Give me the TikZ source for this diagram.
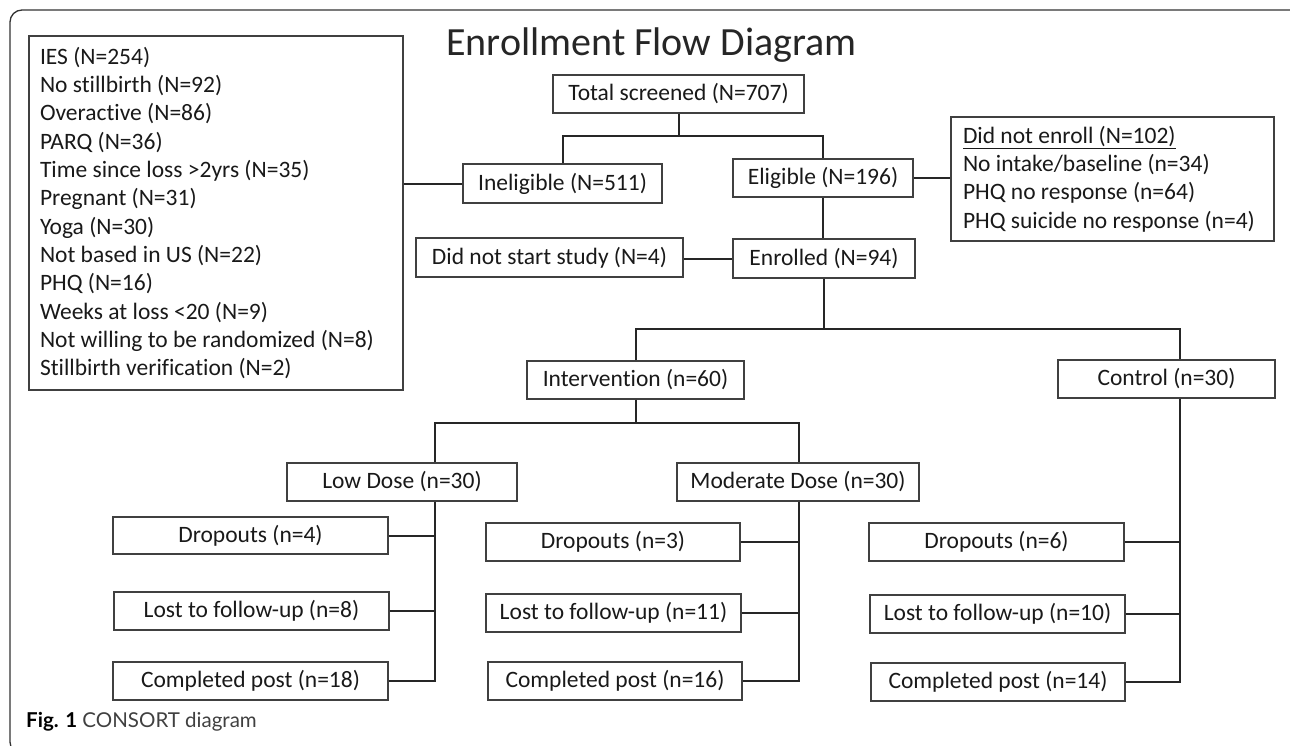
\documentclass[tikz,border=0pt]{standalone}
\usepackage{fontspec}
\setmainfont{Carlito}[Ligatures=NoCommon]
\newfontfamily\capfont{Lato}
\begin{document}
\begin{tikzpicture}[x=1pt,y=-1pt,
  box/.style={draw=black!75,line width=1.3pt,inner sep=0pt,
    font=\fontsize{23.5}{28.3}\selectfont,text=black!90},
  listbox/.style={box,align=left,
    execute at begin node={\spaceskip=0pt\xspaceskip=0pt\relax}},
  conn/.style={draw=black!85,line width=2pt},
  sbox/.style={box,minimum height=38pt}]
\clip (0,0) rectangle (1290,745);
\draw[black!80,line width=1.3pt,rounded corners=12pt] (10,10) rectangle (1302,754);

% title
\node[anchor=base,inner sep=0pt,font=\fontsize{40}{44}\selectfont,text=black!85] (title) at (651.5,55) {Enrollment Flow Diagram};

% boxes
\node[listbox,text width=352pt,inner xsep=11pt,minimum height=354pt] (reasons) at (216,213)
 {IES (N=254)\\No stillbirth (N=92)\\Overactive (N=86)\\PARQ (N=36)\\Time since loss >2yrs (N=35)\\Pregnant (N=31)\\Yoga (N=30)\\Not based in US (N=22)\\PHQ (N=16)\\Weeks at loss <20 (N=9)\\Not willing to be randomized (N=8)\\Stillbirth verification (N=2)};
\node[sbox,minimum width=251pt] (total) at (678.5,94) {Total screened (N=707)};
\node[sbox,minimum width=199pt,minimum height=39pt] (inel) at (562.5,183.5) {Ineligible (N=511)};
\node[sbox,minimum width=180pt] (elig) at (823,178) {Eligible (N=196)};
\node[listbox,text width=299pt,inner xsep=12pt,minimum height=124pt] (dne) at (1112.5,179)
 {\underline{Did not enroll (N=102)}\\No intake/baseline (n=34)\\PHQ no response (n=64)\\PHQ suicide no response (n=4)};
\node[sbox,minimum width=267pt,minimum height=39pt] (dns) at (549.5,257.5) {Did not start study (N=4)};
\node[sbox,minimum width=182pt,minimum height=39pt] (enr) at (824,258.5) {Enrolled (N=94)};
\node[sbox,minimum width=217pt] (interv) at (635.5,380) {Intervention (n=60)};
\node[sbox,minimum width=217pt] (ctrl) at (1166.5,379) {Control (n=30)};
\node[sbox,minimum width=230pt] (low) at (402,482) {Low Dose (n=30)};
\node[sbox,minimum width=242pt] (mod) at (798,482) {Moderate Dose (n=30)};
\node[sbox,minimum width=275pt,minimum height=37pt] (ldrop) at (250.5,535.5) {Dropouts (n=4)};
\node[sbox,minimum width=275pt] (llost) at (251.5,611) {Lost to follow-up (n=8)};
\node[sbox,minimum width=275pt] (lcomp) at (250.5,681) {Completed post (n=18)};
\node[sbox,minimum width=254pt] (mdrop) at (613,542) {Dropouts (n=3)};
\node[sbox,minimum width=255pt] (mlost) at (613.5,613) {Lost to follow-up (n=11)};
\node[sbox,minimum width=254pt] (mcomp) at (615,681) {Completed post (n=16)};
\node[sbox,minimum width=255pt] (cdrop) at (996.5,542) {Dropouts (n=6)};
\node[sbox,minimum width=255pt] (clost) at (997.5,614) {Lost to follow-up (n=10)};
\node[sbox,minimum width=254pt] (ccomp) at (998,682) {Completed post (n=14)};

% caption
\node[anchor=base west,inner sep=0pt,font=\capfont\fontsize{20.5}{22}\selectfont] (cap) at (26,727)
 {\textbf{Fig. 1} \textcolor{black!75}{CONSORT diagram}};

% connectors
\coordinate (j1) at (678.5,136);
\draw[conn] (total.south) -- (j1);
\draw[conn] (inel.north) |- (j1) -| (elig.north);
\draw[conn] (inel.west) -- (inel.west -| reasons.east);
\draw[conn] (elig.east) -- (elig.east -| dne.west);
\draw[conn] (elig.south) -- (elig.south |- enr.north);
\draw[conn] (enr.west) -- (enr.west -| dns.east);
\coordinate (j2) at (824,329);
\draw[conn] (enr.south) -- (j2);
\coordinate (ctop) at (1180,329);
\draw[conn] (interv.north) |- (ctop) -- (ctop |- ctrl.north);
\draw[conn] (ctop |- ctrl.south) |- (ccomp.east);
\draw[conn] (cdrop.east) -- (cdrop.east -| ctop);
\draw[conn] (clost.east) -- (clost.east -| ctop);
\coordinate (ltop) at (435,423);
\coordinate (mtop) at (799,423);
\draw[conn] (interv.south) -- (interv.south |- ltop);
\draw[conn] (low.north -| ltop) -- (ltop) -- (mtop) -- (mtop |- mod.north);
\draw[conn] (low.south -| ltop) |- (lcomp.east);
\draw[conn] (ldrop.east) -- (ldrop.east -| ltop);
\draw[conn] (llost.east) -- (llost.east -| ltop);
\draw[conn] (mod.south -| mtop) |- (mcomp.east);
\draw[conn] (mdrop.east) -- (mdrop.east -| mtop);
\draw[conn] (mlost.east) -- (mlost.east -| mtop);
\end{tikzpicture}
\end{document}
